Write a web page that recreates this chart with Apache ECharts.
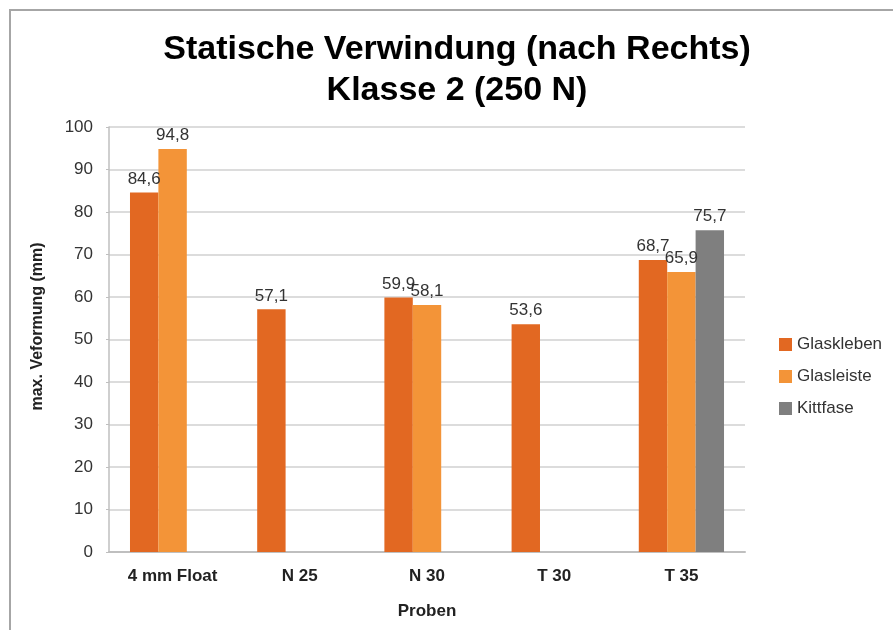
<!DOCTYPE html>
<html>
<head>
<meta charset="utf-8">
<script src="https://cdn.jsdelivr.net/npm/echarts@6/dist/echarts.min.js"></script>
<style>
  html, body { margin: 0; padding: 0; background: #fff; }
  #chart { width: 893px; height: 630px; }
</style>
</head>
<body>
<div id="chart"></div>
<script>
// Sample groups on the x axis
const categories = ['4 mm Float', 'N 25', 'N 30', 'T 30', 'T 35'];
// Maximum deformation (mm) per fixing method; null = not tested
const glaskleben = [84.6, 57.1, 59.9, 53.6, 68.7];
const glasleiste = [94.8, null, 58.1, null, 65.9];
const kittfase   = [null, null, null, null, 75.7];
// Value axis ticks
const yMin = 0, yMax = 100, yStep = 10;

const FONT = '"Liberation Sans", Arial, sans-serif';
const fmt = p => String(p.value).replace('.', ',');

function barSeries(name, data, color) {
  return {
    name: name,
    type: 'bar',
    data: data,
    barGap: '0%',
    barCategoryGap: '33%',
    itemStyle: { color: color },
    label: {
      show: true,
      position: 'top',
      distance: 5,
      formatter: fmt,
      color: '#333',
      fontFamily: FONT,
      fontSize: 17
    }
  };
}

const chart = echarts.init(document.getElementById('chart'), null, { renderer: 'canvas' });
chart.setOption({
  backgroundColor: '#fff',
  animation: false,
  graphic: [{
    type: 'rect',
    shape: { x: 10, y: 10, width: 900, height: 700 },
    style: { fill: 'none', stroke: '#a6a6a6', lineWidth: 2 },
    silent: true
  }],
  title: {
    text: 'Statische Verwindung (nach Rechts)\nKlasse 2 (250 N)',
    left: 452,
    textAlign: 'center',
    top: 24,
    textStyle: {
      fontFamily: FONT,
      fontSize: 34,
      fontWeight: 'bold',
      lineHeight: 41,
      color: '#000'
    }
  },
  legend: {
    orient: 'vertical',
    left: 774,
    top: 331,
    itemWidth: 13,
    itemHeight: 13,
    itemGap: 15,
    icon: 'rect',
    textStyle: { fontFamily: FONT, fontSize: 17, color: '#333' }
  },
  grid: { left: 109, right: 148, top: 127, bottom: 78, containLabel: false },
  xAxis: {
    type: 'category',
    data: categories,
    name: 'Proben',
    nameLocation: 'middle',
    nameGap: 51,
    nameTextStyle: { fontFamily: FONT, fontSize: 17, fontWeight: 'bold', color: '#222' },
    axisLine: { lineStyle: { color: '#bfbfbf', width: 2 } },
    axisTick: { show: false },
    axisLabel: { margin: 16, fontFamily: FONT, fontSize: 17, fontWeight: 'bold', color: '#222' }
  },
  yAxis: {
    type: 'value',
    min: yMin,
    max: yMax,
    interval: yStep,
    name: 'max. Veformung (mm)',
    nameLocation: 'middle',
    nameGap: 63,
    nameTextStyle: { fontFamily: FONT, fontSize: 16, fontWeight: 'bold', color: '#222', padding: [0, 0, 0, 26] },
    axisLine: { show: true, lineStyle: { color: '#bfbfbf', width: 1.5 } },
    axisTick: { show: true, length: 3, lineStyle: { color: '#bfbfbf' } },
    splitLine: { lineStyle: { color: '#d0d0d0', width: 1.5 } },
    axisLabel: { margin: 16, fontFamily: FONT, fontSize: 17, color: '#333' }
  },
  series: [
    barSeries('Glaskleben', glaskleben, '#e26822'),
    barSeries('Glasleiste', glasleiste, '#f39438'),
    barSeries('Kittfase', kittfase, '#7f7f7f')
  ]
});
</script>
</body>
</html>
